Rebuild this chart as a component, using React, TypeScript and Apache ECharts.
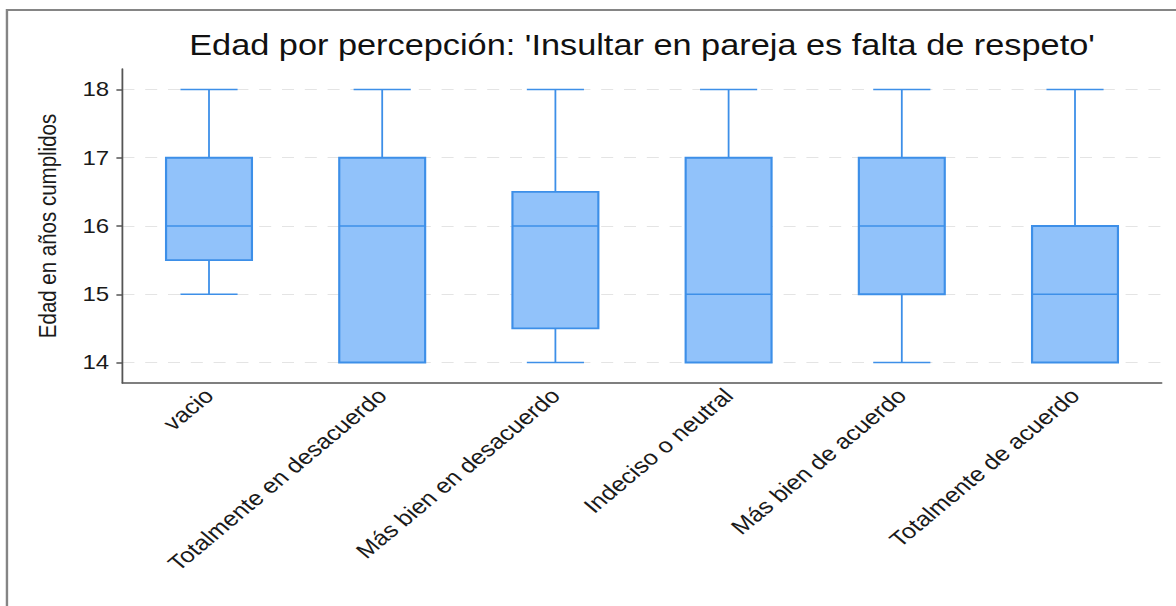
import React, { useEffect, useRef } from "react";
import * as echarts from "echarts";

const categories = [
  "vacio",
  "Totalmente en desacuerdo",
  "Más bien en desacuerdo",
  "Indeciso o neutral",
  "Más bien de acuerdo",
  "Totalmente de acuerdo",
];
// [min, Q1, median, Q3, max]
const boxMin = [15, 14, 14, 14, 14, 14];
const boxQ1 = [15.5, 14, 14.5, 14, 15, 14];
const boxMedian = [16, 16, 16, 15, 16, 15];
const boxQ3 = [17, 17, 16.5, 17, 17, 16];
const boxMax = [18, 18, 18, 18, 18, 18];
const yTicks = [14, 15, 16, 17, 18];

const titleText = "Edad por percepción: 'Insultar en pareja es falta de respeto'";
const yName = "Edad en años cumplidos";

const FONT = "'Liberation Sans', Arial, Helvetica, sans-serif";
const STROKE = "#3d8fe8";
const FILL = "#91c2fa";

// The reference image is stretched horizontally; the chart is drawn at a
// narrower width and stretched with a CSS transform.
const STRETCH = 1.2;
const W = 1176 / STRETCH;
const H = 606;

export default function App() {
  const ref = useRef<HTMLDivElement>(null);
  useEffect(() => {
    if (!ref.current) return;
    const chart = echarts.init(ref.current, null, { renderer: "svg" });
    const data = categories.map((_, i) => [i, boxMin[i], boxQ1[i], boxMedian[i], boxQ3[i], boxMax[i]]);
    const gridLeft = 102;
    const gridRight = 12;
    const plotCenter = gridLeft + (W - gridLeft - gridRight) / 2;
    chart.setOption({
      animation: false,
      backgroundColor: "#ffffff",
      textStyle: { fontFamily: FONT },
      grid: { left: gridLeft, right: gridRight, top: 69, bottom: 223, containLabel: false },
      graphic: [
        {
          type: "rect",
          shape: { x: 5.8, y: 10, width: 1300, height: 800 },
          style: { fill: "none", stroke: "#858585", lineWidth: 2 },
          silent: true,
        },
        {
          type: "text",
          x: plotCenter,
          y: 45,
          style: {
            text: titleText,
            font: `28.6px ${FONT}`,
            fill: "#111111",
            textAlign: "center",
            textVerticalAlign: "middle",
          },
        },
      ],
      xAxis: {
        type: "category",
        data: categories,
        boundaryGap: true,
        axisLine: { show: true, lineStyle: { color: "#555555", width: 1.5 } },
        axisTick: { show: false },
        axisLabel: {
          rotate: 45,
          margin: 9,
          fontSize: 21,
          color: "#1a1a1a",
          fontFamily: FONT,
          interval: 0,
        },
        splitLine: { show: false },
      },
      yAxis: {
        type: "value",
        min: 13.7,
        max: 18.3,
        name: yName,
        nameLocation: "middle",
        nameGap: 52,
        nameRotate: 90,
        nameTextStyle: { fontSize: 20.5, color: "#1a1a1a", fontFamily: FONT },
        axisLine: { show: true, lineStyle: { color: "#555555", width: 1.5 } },
        axisTick: {
          show: true,
          length: 5,
          lineStyle: { color: "#555555", width: 1.5 },
          customValues: yTicks,
        },
        axisLabel: {
          fontSize: 20,
          color: "#1a1a1a",
          margin: 11,
          fontFamily: FONT,
          customValues: yTicks,
        },
        splitLine: { show: false },
      },
      series: [
        {
          type: "line",
          data: [],
          silent: true,
          z: 0,
          markLine: {
            silent: true,
            symbol: "none",
            z: 0,
            label: { show: false },
            lineStyle: { color: "#e4e4e4", type: [10, 9], width: 1 },
            data: yTicks.map((v) => ({ yAxis: v })),
          },
        },
        {
          type: "custom",
          z: 10,
          data: data,
          encode: { x: 0, y: [1, 2, 3, 4, 5] },
          renderItem: (params: any, api: any) => {
            const idx = api.value(0);
            const vMin = api.value(1);
            const q1 = api.value(2);
            const med = api.value(3);
            const q3 = api.value(4);
            const vMax = api.value(5);
            const band = api.size([1, 0])[0];
            const halfBox = band * 0.248;
            const halfCap = band * 0.165;
            const pMin = api.coord([idx, vMin]);
            const pQ1 = api.coord([idx, q1]);
            const pMed = api.coord([idx, med]);
            const pQ3 = api.coord([idx, q3]);
            const pMax = api.coord([idx, vMax]);
            const cx = pMed[0];
            const lineStyle = { stroke: STROKE, lineWidth: 1.5 };
            const children: any[] = [];
            if (vMax > q3) {
              children.push({ type: "line", shape: { x1: cx, y1: pQ3[1], x2: cx, y2: pMax[1] }, style: lineStyle });
            }
            children.push({ type: "line", shape: { x1: cx - halfCap, y1: pMax[1], x2: cx + halfCap, y2: pMax[1] }, style: lineStyle });
            if (vMin < q1) {
              children.push({ type: "line", shape: { x1: cx, y1: pQ1[1], x2: cx, y2: pMin[1] }, style: lineStyle });
              children.push({ type: "line", shape: { x1: cx - halfCap, y1: pMin[1], x2: cx + halfCap, y2: pMin[1] }, style: lineStyle });
            }
            children.push({
              type: "rect",
              shape: { x: cx - halfBox, y: pQ3[1], width: halfBox * 2, height: pQ1[1] - pQ3[1] },
              style: { fill: FILL, stroke: STROKE, lineWidth: 1.8 },
            });
            children.push({ type: "line", shape: { x1: cx - halfBox, y1: pMed[1], x2: cx + halfBox, y2: pMed[1] }, style: lineStyle });
            return { type: "group", children };
          },
        },
      ],
    });
    return () => chart.dispose();
  }, []);
  return (
    <div style={{ position: "fixed", left: 0, top: 0, width: 1176, height: H, overflow: "hidden", background: "#fff" }}>
      <div
        ref={ref}
        style={{
          width: W,
          height: H,
          transform: `scaleX(${STRETCH})`,
          transformOrigin: "0 0",
        }}
      />
    </div>
  );
}
